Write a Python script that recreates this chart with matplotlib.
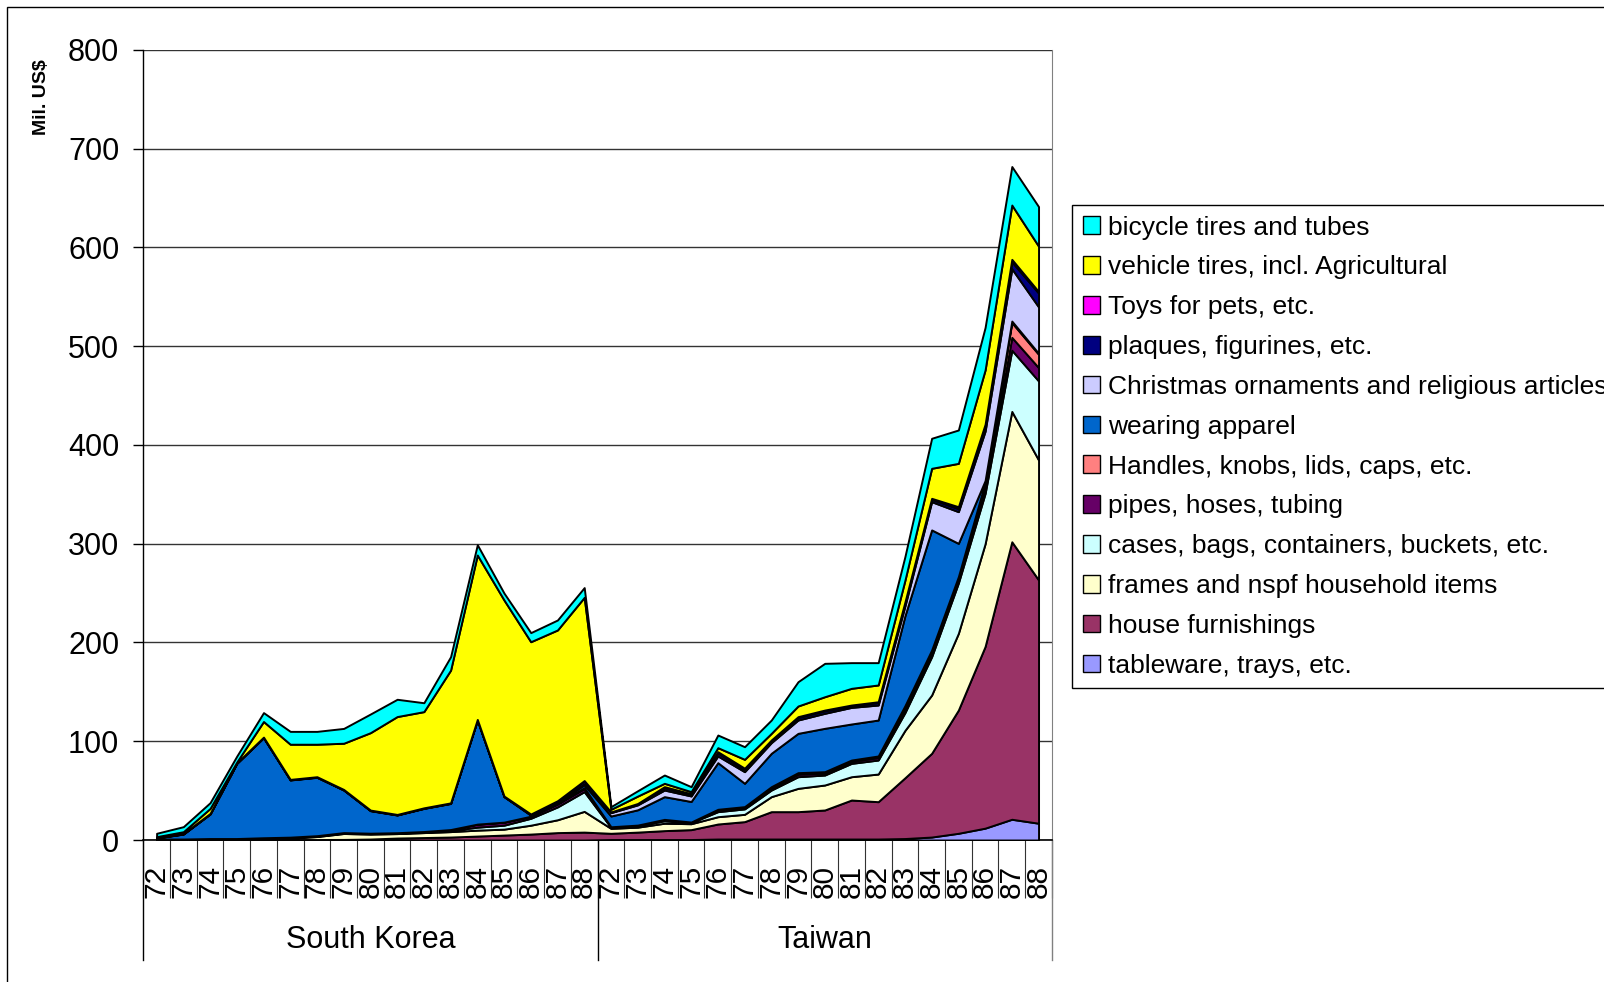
import matplotlib
matplotlib.use("Agg")
import matplotlib.pyplot as plt
from matplotlib.patches import Patch, Rectangle
import numpy as np

plt.rcParams["font.family"] = ["Liberation Sans", "DejaVu Sans"]

# US imports of rubber/plastic goods, million US$, 1972-1988
years = [str(y) for y in range(72, 89)]
countries = ["South Korea", "Taiwan"]

# series listed from the bottom of the stack to the top
tableware = [0, 0, 0, 0, 0, 0, 0, 0, 0, 0, 0, 0, 0, 0, 0, 0, 0,
             0.5, 0.5, 0.5, 0.5, 1, 1, 1, 1, 1, 1, 1, 1.5, 3, 6.8, 12, 21, 17]
house = [0.2, 0.2, 0.3, 0.3, 0.4, 0.5, 0.5, 0.6, 1, 2, 2.5, 3, 4, 5, 6, 7.5, 8,
         6.3, 7.5, 9, 10, 15.2, 17.6, 27.7, 27.7, 29.4, 39.5, 37.8, 61.5, 84.8, 124.8, 184, 281, 246.4]
frames = [0.3, 0.3, 0.5, 0.5, 1, 1.5, 3, 6, 5, 4.5, 5, 5.5, 6, 6, 9, 13, 21,
          5, 5, 7.5, 6, 7.4, 7.4, 15.2, 23.6, 25.3, 23.6, 28, 48, 59, 77.7, 104, 132, 121.5]
cases = [0.2, 0.2, 0.3, 0.3, 0.5, 0.5, 0.5, 0.5, 0.5, 0.5, 0.5, 1, 3, 4, 7, 13, 20,
         1, 1.5, 2.5, 1, 5.1, 5.5, 6.7, 11.8, 10.1, 13.5, 14.2, 18, 38.8, 51, 51, 62, 80]
pipes = [0.2, 0.2, 0.3, 0.3, 0.3, 0.3, 0.3, 0.3, 0.3, 0.3, 0.5, 1, 3, 3, 2, 3, 3,
         0.3, 0.3, 0.7, 0.4, 1.2, 1.3, 2, 2.5, 2, 2, 2.5, 4, 4, 4, 6, 13, 13.5]
handles = [0.1, 0.1, 0.1, 0.1, 0.1, 0.1, 0.1, 0.1, 0.1, 0.1, 0.1, 0.1, 0.1, 0.1, 0.1, 0.1, 1,
           0.3, 0.3, 0.7, 0.3, 1.2, 1, 1.4, 1.6, 1.4, 1.4, 1.6, 3, 2.8, 2.4, 5, 15, 13.5]
apparel = [1.0, 5, 24.8, 76.1, 101.3, 57.9, 59.1, 43.1, 22.8, 17.9, 23.4, 26.4, 105.4, 25.8, 1, 1, 3,
           10.9, 15.5, 23, 20.8, 47.2, 23.6, 33.8, 39.8, 43.9, 36.5, 36.4, 91, 121.6, 33.7, 2, 1.5, 1]
christmas = [0.2, 0.2, 0.2, 0.2, 0.2, 0.2, 0.2, 0.2, 0.2, 0.2, 0.2, 0.2, 0.2, 0.2, 0.5, 0.5, 1,
             3.4, 5, 6.7, 5.6, 6.8, 11.8, 10.8, 13.5, 15.2, 16.8, 15.2, 10, 28.6, 32.1, 50, 53, 47]
plaques = [0.2, 0.2, 0.2, 0.2, 0.2, 0.2, 0.2, 0.2, 0.2, 0.2, 0.2, 0.2, 0.2, 0.2, 0.5, 1.5, 3,
           0.5, 1, 2.4, 1.5, 3, 2, 2, 2.5, 2.5, 1.7, 2.5, 3, 2.4, 3, 5, 7, 14]
toys = [0.2, 0.2, 0.2, 0.2, 0.2, 0.2, 0.2, 0.2, 0.2, 0.2, 0.2, 0.2, 0.2, 0.2, 0.2, 0.2, 0.2,
        0.2, 0.4, 1, 0.8, 1.3, 1.5, 0.7, 0.9, 0.8, 0.7, 0.8, 1, 1, 2, 2, 2.5, 1.5]
vehicle = [0.8, 1.8, 5.1, 0.8, 15.8, 35.6, 32.9, 46.8, 78.4, 99.1, 97.4, 134.4, 166.5, 198.5, 174.5, 172.9, 185.5,
           2.7, 7.5, 3.4, 2.1, 4.1, 9, 6.7, 10.8, 13.5, 16.9, 17, 22, 30.4, 43.9, 55, 55, 46]
bicycle = [3.4, 5.1, 5.8, 6, 9, 13, 13, 15, 18.9, 17.5, 9, 13.6, 10.4, 7, 9.2, 10.1, 9.9,
           2.7, 5.4, 8.4, 5, 12.8, 12.8, 13.5, 24.6, 33.8, 26, 22.6, 24, 30.4, 33.8, 43, 39, 40]

series = [tableware, house, frames, cases, pipes, handles, apparel,
          christmas, plaques, toys, vehicle, bicycle]
labels = ["tableware, trays, etc.", "house furnishings",
          "frames and nspf household items", "cases, bags, containers, buckets, etc.",
          "pipes, hoses, tubing", "Handles, knobs, lids, caps, etc.", "wearing apparel",
          "Christmas ornaments and religious articles", "plaques, figurines, etc.",
          "Toys for pets, etc.", "vehicle tires, incl. Agricultural", "bicycle tires and tubes"]
colors = ["#9999FF", "#993366", "#FFFFCC", "#CCFFFF", "#660066", "#FF8080",
          "#0066CC", "#CCCCFF", "#000080", "#FF00FF", "#FFFF00", "#00FFFF"]

fig = plt.figure(figsize=(16.04, 9.82), dpi=100)
ax = fig.add_axes([0.0893, 0.1446, 0.5665, 0.8045])

n = len(years) * len(countries)
x = np.arange(n)
ax.stackplot(x, series, colors=colors, edgecolor="black", linewidth=1.4, zorder=3)

# y axis
ax.set_ylim(0, 800)
ax.set_yticks(range(0, 801, 100))
ax.tick_params(axis="y", labelsize=22, length=7.2, width=1, pad=10)
ax.yaxis.grid(True, color="#333333", linewidth=1)
ax.set_axisbelow(True)

# category axis: year labels between tick marks
ax.set_xlim(-0.5, n - 0.5)
ax.set_xticks(np.arange(-0.5, n, 1.0))
ax.set_xticklabels([])
ax.tick_params(axis="x", which="major", length=41.8, width=0.8, color="#333333")
ax.set_xticks(x, minor=True)
ax.set_xticklabels(years * len(countries), minor=True, rotation=90)
ax.tick_params(axis="x", which="minor", length=0, labelsize=21.5, pad=18)

ax.spines["top"].set_visible(False)
ax.spines["right"].set_color("#808080")
ax.spines["left"].set_linewidth(1)
ax.spines["bottom"].set_linewidth(1.2)

# country group labels and separators
sep_bottom = -(960 - 840) / 790
for xs in [0, 0.5, 1]:
    ax.plot([xs, xs], [0, sep_bottom], transform=ax.transAxes, clip_on=False,
            color="#808080" if xs == 1 else "black", linewidth=1)
for k, name in enumerate(countries):
    ax.text(0.25 + 0.5 * k, -(940 - 840) / 790, name, transform=ax.transAxes,
            ha="center", va="center", fontsize=22)

fig.text(41 / 1604, 1 - 97 / 982, "Mil. US$", rotation=90, ha="center", va="center",
         fontsize=14, fontweight="bold")

# legend lists the top of the stack first
handles_ = [Patch(facecolor=c, edgecolor="black", linewidth=1) for c in colors][::-1]
leg = fig.legend(handles_, labels[::-1], loc="upper left",
                 bbox_to_anchor=(1072 / 1604, 1 - 205 / 982), borderaxespad=0,
                 fontsize=19, frameon=True, fancybox=False, edgecolor="black",
                 framealpha=1, borderpad=0.4, labelspacing=0.6,
                 handlelength=0.65, handleheight=0.65, handletextpad=0.3)
leg.get_frame().set_linewidth(1)

# outer chart border
fig.add_artist(Rectangle((7 / 1604, -0.5), 2, 1.5 - 7 / 982, transform=fig.transFigure,
                         fill=False, edgecolor="black", linewidth=1))

fig.savefig("out.png", dpi=100)
